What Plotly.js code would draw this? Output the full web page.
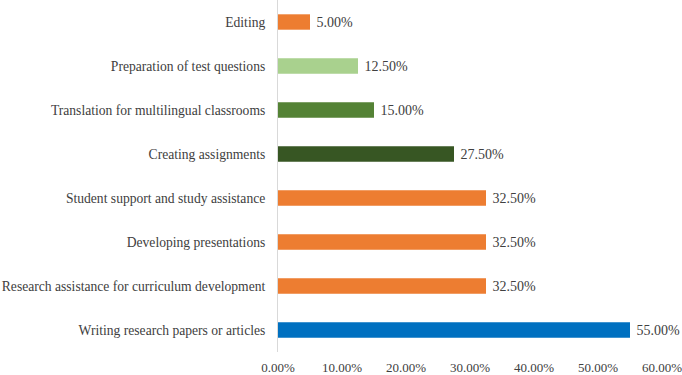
<!DOCTYPE html>
<html>
<head>
<meta charset="utf-8">
<script src="https://cdn.plot.ly/plotly-3.0.1.min.js"></script>
<style>html,body{margin:0;padding:0;background:#fff;}#chart{width:682px;height:375px;}</style>
</head>
<body>
<div id="chart"></div>
<script>
const categories = [
  "Writing research papers or articles",
  "Research assistance for curriculum development",
  "Developing presentations",
  "Student support and study assistance",
  "Creating assignments",
  "Translation for multilingual classrooms",
  "Preparation of test questions",
  "Editing"
];
const values = [55.0, 32.5, 32.5, 32.5, 27.5, 15.0, 12.5, 5.0];
const barColors = ["#0070C0", "#ED7D31", "#ED7D31", "#ED7D31", "#375623", "#548235", "#A9D18E", "#ED7D31"];
const xTickVals = [0, 10, 20, 30, 40, 50, 60];
const xTickText = ["0.00%", "10.00%", "20.00%", "30.00%", "40.00%", "50.00%", "60.00%"];

const fam = "Liberation Serif, Times New Roman, serif";
const catFont = {family: fam, size: 13.6, color: "#404040"};
const dataFont = {family: fam, size: 14, color: "#404040"};
const tickFont = {family: fam, size: 13, color: "#404040"};

Plotly.newPlot("chart", [{
  type: "bar",
  orientation: "h",
  y: categories,
  x: values,
  marker: {color: barColors},
  text: values.map(v => "\u00a0" + v.toFixed(2) + "%"),
  textposition: "outside",
  textfont: dataFont,
  cliponaxis: false,
  hoverinfo: "none"
}], {
  width: 682, height: 375,
  margin: {l: 278, r: 20, t: 0, b: 23},
  paper_bgcolor: "#fff", plot_bgcolor: "#fff",
  bargap: 0.65,
  showlegend: false,
  font: catFont,
  xaxis: {
    range: [0, 60], tickvals: xTickVals, ticktext: xTickText,
    showgrid: false, zeroline: false, showline: false,
    ticks: "outside", ticklen: 3, tickcolor: "rgba(0,0,0,0)",
    ticklabeloverflow: "allow",
    tickfont: tickFont, fixedrange: true, automargin: false
  },
  yaxis: {
    type: "category", categoryorder: "array", categoryarray: categories,
    showgrid: false, zeroline: false, showline: true, linecolor: "#d9d9d9", linewidth: 1,
    ticks: "outside", ticklen: 9, tickcolor: "rgba(0,0,0,0)",
    tickfont: catFont, automargin: false, fixedrange: true
  }
}, {staticPlot: true, displayModeBar: false});
</script>
</body>
</html>
